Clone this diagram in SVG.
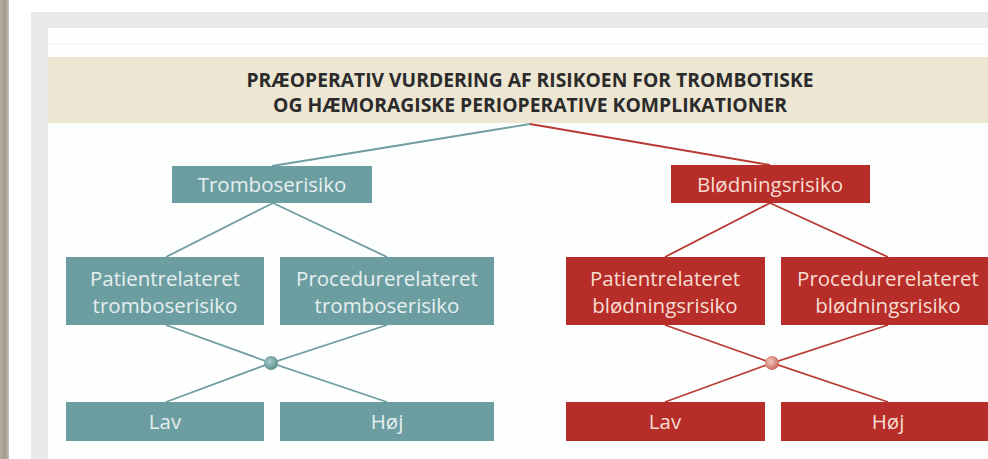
<svg xmlns="http://www.w3.org/2000/svg" width="988" height="459" viewBox="0 0 988 459">
<defs>
<style>
.t{fill:#6c9ea1}
.r{fill:#b72d29}
.tl{fill:#e6efef;font-family:"Open Sans","Noto Sans",sans-serif;font-size:20.5px;text-anchor:middle}
.rl{fill:#f6ddd2;font-family:"Open Sans","Noto Sans",sans-serif;font-size:20.5px;text-anchor:middle}
.title{fill:#2b2b2b;font-family:"Open Sans","Liberation Sans",sans-serif;font-weight:bold;font-size:19px;text-anchor:middle}
.ct{stroke:#6f9da0;stroke-width:1.8;fill:none}
.cr{stroke:#b83a33;stroke-width:1.8;fill:none}
</style>
<radialGradient id="gt" cx="0.4" cy="0.4" r="0.6">
<stop offset="0" stop-color="#a9cccc"/><stop offset="1" stop-color="#5e8f8f"/>
</radialGradient>
<radialGradient id="gr" cx="0.4" cy="0.4" r="0.6">
<stop offset="0" stop-color="#f6c9c0"/><stop offset="1" stop-color="#c9695f"/>
</radialGradient>
<linearGradient id="strip" x1="0" x2="1">
<stop offset="0" stop-color="#b7ae9f"/><stop offset="0.6" stop-color="#a39a8c"/><stop offset="1" stop-color="#c7c1b6"/>
</linearGradient>
</defs>
<rect width="988" height="459" fill="#ffffff"/>
<rect x="0" y="0" width="9" height="459" fill="url(#strip)"/>
<rect x="31" y="12" width="957" height="447" fill="#e8eaea"/>
<rect x="48" y="28" width="940" height="431" fill="#fdfefe"/>
<line x1="48" y1="44" x2="988" y2="44" stroke="#f3f3ee" stroke-width="1"/>
<rect x="48" y="57" width="940" height="66" fill="#ece6d3"/>
<g id="title">
<text class="title" x="530" y="87" textLength="567" lengthAdjust="spacingAndGlyphs">PRÆOPERATIV VURDERING AF RISIKOEN FOR TROMBOTISKE</text>
<text class="title" x="530" y="112" textLength="514" lengthAdjust="spacingAndGlyphs">OG HÆMORAGISKE PERIOPERATIVE KOMPLIKATIONER</text>
</g>
<g id="connectors">
<path class="ct" d="M530 124 L272 166"/>
<path class="cr" d="M530 124 L770 165"/>
<path class="ct" d="M273 203 L166 257 M273 203 L387 257"/>
<path class="ct" d="M166 325 L271 363 L387 325 M166 402 L271 363 L387 402"/>
<path class="cr" d="M770 203 L665 257 M770 203 L888 257"/>
<path class="cr" d="M665 325 L772 363 L888 325 M665 402 L772 363 L888 402"/>
</g>
<g id="tromboserisiko"><rect class="t" x="172" y="166" width="200" height="37"/><text class="tl" x="272" y="192">Tromboserisiko</text></g>
<g id="bloedningsrisiko"><rect class="r" x="671" y="165" width="199" height="38"/><text class="rl" x="770" y="192">Blødningsrisiko</text></g>
<g id="patient-trombo"><rect class="t" x="66" y="257" width="198" height="68"/><text class="tl" x="165" y="286">Patientrelateret</text><text class="tl" x="165" y="313">tromboserisiko</text></g>
<g id="procedure-trombo"><rect class="t" x="280" y="257" width="214" height="68"/><text class="tl" x="387" y="286">Procedurerelateret</text><text class="tl" x="387" y="313">tromboserisiko</text></g>
<g id="patient-bloed"><rect class="r" x="566" y="257" width="199" height="68"/><text class="rl" x="665" y="286">Patientrelateret</text><text class="rl" x="665" y="313">blødningsrisiko</text></g>
<g id="procedure-bloed"><rect class="r" x="781" y="257" width="214" height="68"/><text class="rl" x="888" y="286">Procedurerelateret</text><text class="rl" x="888" y="313">blødningsrisiko</text></g>
<g id="node-trombo"><circle cx="271" cy="363" r="7" fill="url(#gt)"/></g>
<g id="node-bloed"><circle cx="772" cy="363" r="7" fill="url(#gr)"/></g>
<g id="lav-trombo"><rect class="t" x="66" y="402" width="198" height="39"/><text class="tl" x="165" y="429">Lav</text></g>
<g id="hoej-trombo"><rect class="t" x="280" y="402" width="214" height="39"/><text class="tl" x="387" y="429">Høj</text></g>
<g id="lav-bloed"><rect class="r" x="566" y="402" width="199" height="39"/><text class="rl" x="665" y="429">Lav</text></g>
<g id="hoej-bloed"><rect class="r" x="781" y="402" width="214" height="39"/><text class="rl" x="888" y="429">Høj</text></g>
</svg>
